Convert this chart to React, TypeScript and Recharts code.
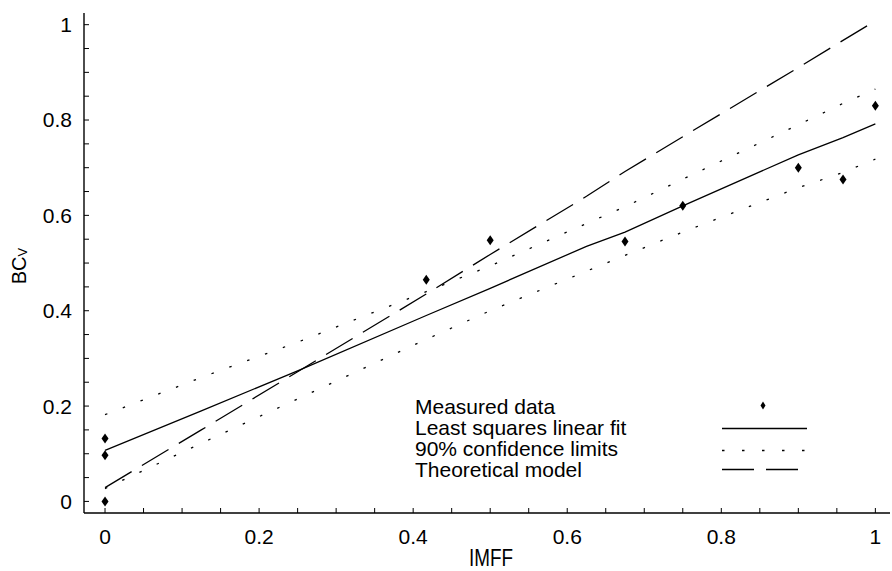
import { ComposedChart, Line, Scatter, XAxis, YAxis, Legend } from 'recharts'

const FONT = '"Liberation Sans", Arial, Helvetica, sans-serif'
const NARROW = '"Liberation Sans Narrow", "Liberation Sans", Arial, sans-serif'

const curveX = [0, 0.125, 0.25, 0.417, 0.5, 0.625, 0.675, 0.75, 0.9, 0.958, 1]
const fitY = [0.107, 0.19, 0.274, 0.39, 0.447, 0.535, 0.565, 0.62, 0.727, 0.763, 0.792]
const upperY = [0.182, 0.26, 0.334, 0.44, 0.494, 0.583, 0.618, 0.676, 0.79, 0.835, 0.865]
const lowerY = [0.027, 0.122, 0.215, 0.34, 0.4, 0.483, 0.516, 0.565, 0.658, 0.69, 0.718]
const theoryY = [0.029, 0.15, 0.272, 0.435, 0.518, 0.64, 0.692, 0.765, 0.91, 0.967, 1.008]

const measuredX = [0, 0, 0, 0.417, 0.5, 0.675, 0.75, 0.9, 0.958, 1]
const measuredY = [0, 0.097, 0.132, 0.465, 0.548, 0.545, 0.62, 0.7, 0.675, 0.83]

const minorTicks = [0, 0.05, 0.1, 0.15, 0.2, 0.25, 0.3, 0.35, 0.4, 0.45, 0.5, 0.55, 0.6, 0.65, 0.7, 0.75, 0.8, 0.85, 0.9, 0.95, 1]
const majorTicks = [0, 0.2, 0.4, 0.6, 0.8, 1]
const tickLabels = ['0', '0.2', '0.4', '0.6', '0.8', '1']

const legendLabels = ['Measured data', 'Least squares linear fit', '90% confidence limits', 'Theoretical model']

const curveRows = curveX.map((x, i) => ({ x, fit: fitY[i], upper: upperY[i], lower: lowerY[i], theory: theoryY[i] }))
const measured = measuredX.map((x, i) => ({ x, y: measuredY[i] }))

const xDomain = [-0.0273, 1.019]
const yDomain = [-0.0243, 1.0245]

const fmt = (v: number) => {
  const i = majorTicks.findIndex((m) => Math.abs(m - v) < 1e-9)
  return i >= 0 ? tickLabels[i] : ''
}

const Diamond = (props: any) => {
  const { cx, cy } = props
  if (cx == null || cy == null) return null
  return <path d={`M${cx},${cy - 5}L${cx + 3.5},${cy}L${cx},${cy + 5}L${cx - 3.5},${cy}Z`} fill="#000" />
}

const XTitle = (props: any) => {
  const vb = props.viewBox
  return (
    <text
      x={vb.x + vb.width / 2 + 4} y={vb.y + 53} textAnchor="middle"
      fontFamily={NARROW} fontSize={24} fill="#000" textLength={44} lengthAdjust="spacingAndGlyphs"
    >
      IMFF
    </text>
  )
}

const YTitle = (props: any) => {
  const vb = props.viewBox
  const x = 26
  const y = vb.y + vb.height / 2 + 3
  return (
    <text
      x={x} y={y} transform={`rotate(-90, ${x}, ${y})`} textAnchor="middle"
      fontFamily={NARROW} fontSize={20} fill="#000"
    >
      BC<tspan fontSize={13} dy={1}>V</tspan>
    </text>
  )
}

function LegendBox() {
  return (
    <div style={{ position: 'relative', width: 400, height: 84, fontFamily: FONT, fontSize: 21, color: '#000' }}>
      {legendLabels.map((t, i) => (
        <div key={t} style={{ position: 'absolute', left: 0, top: i * 21, height: 21, lineHeight: '21px', whiteSpace: 'nowrap' }}>
          {t}
        </div>
      ))}
      <svg width={90} height={84} style={{ position: 'absolute', left: 307, top: 0 }}>
        <path d="M41,5.5L43.5,9.5L41,13.5L38.5,9.5Z" fill="#000" />
        <line x1={0} x2={85} y1={32.5} y2={32.5} stroke="#000" strokeWidth={1.3} />
        <line x1={0} x2={85} y1={54.5} y2={54.5} stroke="#000" strokeWidth={1.3} strokeDasharray="2.5 17.5" />
        <line x1={0} x2={85} y1={73.5} y2={73.5} stroke="#000" strokeWidth={1.3} strokeDasharray="32 12" />
      </svg>
    </div>
  )
}

const tickStyle = { fill: '#000', fontSize: 21, fontFamily: FONT }
const axisStroke = { stroke: '#000', strokeWidth: 1.4 }

export default function App() {
  return (
    <div style={{ position: 'absolute', left: 0, top: 0, background: '#fff' }}>
      <ComposedChart width={892} height={571} data={curveRows} margin={{ top: 13, right: 2, bottom: 0, left: 0 }}>
        <XAxis
          dataKey="x" type="number" domain={xDomain} allowDataOverflow ticks={minorTicks} interval={0}
          tickFormatter={fmt} tickSize={-5} tickMargin={21} height={58}
          tick={tickStyle} axisLine={axisStroke} tickLine={{ stroke: '#000' }}
          label={{ content: XTitle }}
        />
        <XAxis
          xAxisId="top" orientation="top" dataKey="x" type="number" domain={xDomain} allowDataOverflow
          ticks={minorTicks} interval={0} height={0} tick={false} tickSize={-5}
          axisLine={axisStroke} tickLine={{ stroke: '#000' }}
        />
        <YAxis
          type="number" domain={yDomain} allowDataOverflow ticks={minorTicks} interval={0}
          tickFormatter={fmt} tickSize={-5} tickMargin={17} width={84}
          tick={tickStyle} axisLine={axisStroke} tickLine={{ stroke: '#000' }}
          label={{ content: YTitle }}
        />
        <YAxis
          yAxisId="right" orientation="right" type="number" domain={yDomain} allowDataOverflow
          ticks={minorTicks} interval={0} width={0} tick={false} tickSize={-5}
          axisLine={axisStroke} tickLine={{ stroke: '#000' }}
        />
        <Line dataKey="upper" type="linear" stroke="#000" strokeWidth={1.3} strokeDasharray="2.5 16.5" dot={false} activeDot={false} isAnimationActive={false} />
        <Line dataKey="lower" type="linear" stroke="#000" strokeWidth={1.3} strokeDasharray="2.5 16.5" dot={false} activeDot={false} isAnimationActive={false} />
        <Line dataKey="theory" type="linear" stroke="#000" strokeWidth={1.3} strokeDasharray="31 12" dot={false} activeDot={false} isAnimationActive={false} />
        <Line dataKey="fit" type="linear" stroke="#000" strokeWidth={1.3} dot={false} activeDot={false} isAnimationActive={false} />
        <Scatter data={measured} dataKey="y" shape={Diamond} isAnimationActive={false} />
        <Legend
          layout="vertical" align="center" verticalAlign="middle"
          wrapperStyle={{ position: 'absolute', left: 415, top: 395.5, width: 400, height: 84 }}
          content={() => <LegendBox />}
        />
      </ComposedChart>
    </div>
  )
}
